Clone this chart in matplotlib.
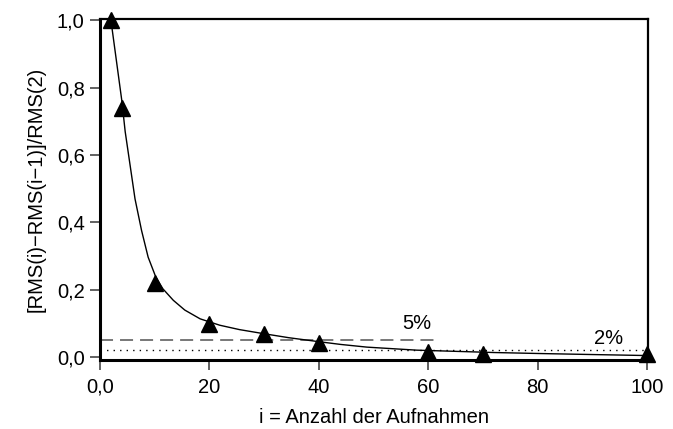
import matplotlib.pyplot as plt
from matplotlib.ticker import FixedLocator, FixedFormatter

plt.rcParams['font.family'] = ['Liberation Sans', 'DejaVu Sans']

# Messpunkte
aufnahmen = [2, 4, 10, 20, 30, 40, 60, 70, 100]
verhaeltnis = [1.0, 0.74, 0.22, 0.10, 0.068, 0.043, 0.016, 0.011, 0.011]

# angepasste Kurve
kurve_x = [2, 3, 4, 4.6, 5.5, 6.4, 7.6, 8.8, 10.2, 11.5, 13.4, 15.5, 18.3, 21.9,
           25.5, 29.9, 34.5, 39.6, 44, 48.8, 57.9, 64, 72, 80.4, 90, 100]
kurve_y = [1.0, 0.88, 0.76, 0.67, 0.57, 0.47, 0.376, 0.297, 0.238, 0.203, 0.169,
           0.140, 0.114, 0.095, 0.082, 0.070, 0.058, 0.047, 0.038, 0.030, 0.021,
           0.018, 0.014, 0.011, 0.008, 0.005]

grenze_5 = 0.05
grenze_2 = 0.02

x_ticks = [0, 20, 40, 60, 80, 100]
x_labels = ['0,0', '20', '40', '60', '80', '100']
y_ticks = [0.0, 0.2, 0.4, 0.6, 0.8, 1.0]
y_labels = ['0,0', '0,2', '0,4', '0,6', '0,8', '1,0']

fig = plt.figure(figsize=(6.73, 4.29), dpi=100)
ax = fig.add_axes([0.1486, 0.161, 0.8144, 0.7947])

ax.plot([0, 61], [grenze_5, grenze_5], color='#777777', lw=1.4, dashes=(6.7, 3.6))
ax.plot([0, 100], [grenze_2, grenze_2], color='black', lw=1.0, dashes=(1, 3.7))
ax.plot(kurve_x, kurve_y, color='black', lw=1.0)
ax.plot(aufnahmen, verhaeltnis, ls='none', marker='^', ms=11, color='black',
        clip_on=False, zorder=5)

ax.text(58, 0.072, '5%', fontsize=14.5, ha='center', va='bottom')
ax.text(93, 0.027, '2%', fontsize=14.5, ha='center', va='bottom')

ax.set_xlim(0, 100.2)
ax.set_ylim(-0.008, 1.004)
ax.xaxis.set_major_locator(FixedLocator(x_ticks))
ax.xaxis.set_major_formatter(FixedFormatter(x_labels))
ax.yaxis.set_major_locator(FixedLocator(y_ticks))
ax.yaxis.set_major_formatter(FixedFormatter(y_labels))
ax.tick_params(direction='out', length=7, width=1.3, color='#555555',
               labelsize=14.5, pad=4)
ax.tick_params(axis='x', pad=6)

for side in ['left', 'bottom']:
    ax.spines[side].set_linewidth(2.2)
for side in ['top', 'right']:
    ax.spines[side].set_linewidth(1.6)

ax.set_xlabel('i = Anzahl der Aufnahmen', fontsize=14.5, labelpad=8)
ax.set_ylabel('[RMS(i)\u2212RMS(i\u22121)]/RMS(2)', fontsize=14.5, labelpad=8)

fig.savefig('out.png', dpi=100)
